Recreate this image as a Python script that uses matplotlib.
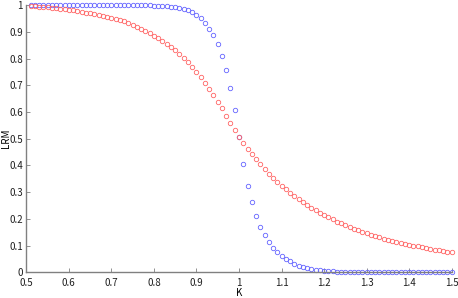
import numpy as np
import matplotlib
matplotlib.use('Agg')
from matplotlib import pyplot as plt
from matplotlib.ticker import FuncFormatter

# K values (0.51 .. 1.50, step 0.01)
K = np.round(np.arange(51, 151) / 100.0, 2)

# red series
lrm_red = [0.996, 0.995, 0.994, 0.993, 0.991, 0.990, 0.988, 0.986, 0.984, 0.982,
           0.980, 0.977, 0.975, 0.972, 0.969, 0.966, 0.963, 0.959, 0.956, 0.952,
           0.948, 0.944, 0.939, 0.933, 0.926, 0.918, 0.910, 0.902, 0.894, 0.885,
           0.876, 0.866, 0.855, 0.843, 0.830, 0.817, 0.802, 0.786, 0.768, 0.749,
           0.730, 0.709, 0.687, 0.664, 0.639, 0.614, 0.586, 0.558, 0.531, 0.506,
           0.483, 0.461, 0.441, 0.423, 0.404, 0.386, 0.369, 0.353, 0.338, 0.324,
           0.311, 0.298, 0.286, 0.274, 0.263, 0.252, 0.242, 0.232, 0.223, 0.214,
           0.206, 0.198, 0.190, 0.183, 0.176, 0.169, 0.163, 0.157, 0.151, 0.146,
           0.141, 0.136, 0.131, 0.126, 0.122, 0.118, 0.114, 0.110, 0.107, 0.103,
           0.100, 0.097, 0.094, 0.091, 0.088, 0.085, 0.082, 0.080, 0.077, 0.075]

# blue series
lrm_blue = [1.000, 1.000, 1.000, 1.000, 1.000, 1.000, 1.000, 1.000, 1.000, 1.000,
            1.000, 1.000, 1.000, 1.000, 1.000, 1.000, 1.000, 1.000, 1.000, 1.000,
            1.000, 1.000, 1.000, 1.000, 1.000, 1.000, 1.000, 0.999, 0.999, 0.998,
            0.997, 0.996, 0.995, 0.993, 0.991, 0.988, 0.985, 0.980, 0.973, 0.963,
            0.950, 0.933, 0.911, 0.887, 0.854, 0.810, 0.758, 0.691, 0.606, 0.505,
            0.404, 0.324, 0.263, 0.212, 0.171, 0.140, 0.113, 0.092, 0.075, 0.061,
            0.050, 0.041, 0.032, 0.025, 0.020, 0.016, 0.012, 0.010, 0.008, 0.006,
            0.005, 0.004, 0.003, 0.002, 0.002, 0.001, 0.001, 0.001, 0.001, 0.000,
            0.000, 0.000, 0.000, 0.000, 0.000, 0.000, 0.000, 0.000, 0.000, 0.000,
            0.000, 0.000, 0.000, 0.000, 0.000, 0.000, 0.000, 0.000, 0.000, 0.000]

plt.rcParams['font.family'] = ['Noto Sans CJK JP', 'DejaVu Sans']

fig = plt.figure(figsize=(4.58, 2.98), dpi=100)
ax = fig.add_axes([0.0574, 0.0862, 0.9289, 0.8968])

ax.plot(K, lrm_blue, 'o', mfc='none', mec='#6464ff', mew=0.6, ms=3.2, clip_on=False)
ax.plot(K, lrm_red, 'o', mfc='none', mec='#ff6464', mew=0.6, ms=3.2, clip_on=False)

ax.set_xlim(0.5, 1.5)
ax.set_ylim(0, 1)
ax.set_xticks(np.arange(0.5, 1.51, 0.1))
ax.set_yticks(np.arange(0, 1.01, 0.1))
fmt = FuncFormatter(lambda v, p: '%g' % round(v, 2))
ax.xaxis.set_major_formatter(fmt)
ax.yaxis.set_major_formatter(fmt)

for s in ['top', 'right']:
    ax.spines[s].set_visible(False)
for s in ['left', 'bottom']:
    ax.spines[s].set_color('#808080')
    ax.spines[s].set_linewidth(1.0)
ax.tick_params(direction='in', length=3, width=0.6, color='#808080',
               labelsize=7, labelcolor='#202020')
ax.tick_params(axis='x', pad=4)
ax.tick_params(axis='y', pad=2.5)

ax.set_xlabel('K', fontsize=7)
ax.set_ylabel('LRM', fontsize=7)
ax.xaxis.set_label_coords(0.5, -0.057)
ax.yaxis.set_label_coords(-0.037, 0.5)

fig.savefig('out.png', dpi=100)
